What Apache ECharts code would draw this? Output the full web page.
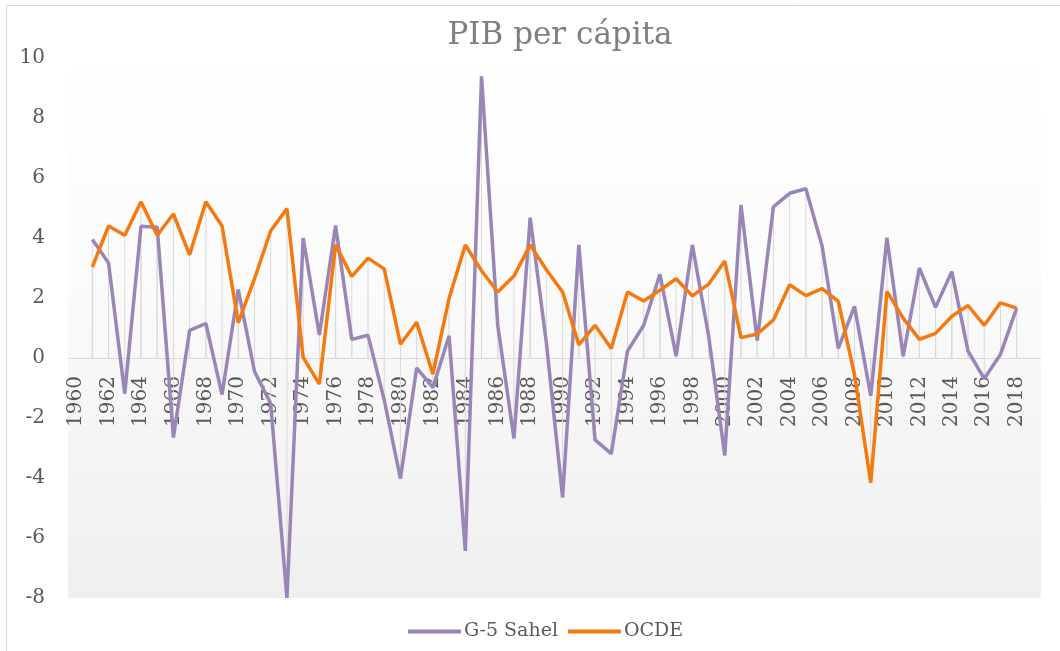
<!DOCTYPE html>
<html>
<head>
<meta charset="utf-8">
<style>
  html, body { margin: 0; padding: 0; background: #fff; }
  #grafico { width: 1060px; height: 651px; }
</style>
</head>
<body>
<div id="grafico"></div>

<script src="https://cdn.jsdelivr.net/npm/echarts@6/dist/echarts.min.js"></script>
<script>
    // Años (la última categoría queda vacía, como en el original)
    var anios = ['1960','1961','1962','1963','1964','1965','1966','1967','1968','1969',
                 '1970','1971','1972','1973','1974','1975','1976','1977','1978','1979',
                 '1980','1981','1982','1983','1984','1985','1986','1987','1988','1989',
                 '1990','1991','1992','1993','1994','1995','1996','1997','1998','1999',
                 '2000','2001','2002','2003','2004','2005','2006','2007','2008','2009',
                 '2010','2011','2012','2013','2014','2015','2016','2017','2018','2019'];

    // Crecimiento del PIB per cápita (%)
    var sahel = [null, 3.95, 3.17, -1.19, 4.39, 4.36, -2.65, 0.92, 1.15, -1.22,
                 2.28, -0.45, -1.52, -8.0, 4.0, 0.77, 4.42, 0.62, 0.76, -1.4,
                 -4.02, -0.33, -0.99, 0.74, -6.43, 9.39, 1.09, -2.68, 4.68, 0.5,
                 -4.65, 3.77, -2.73, -3.19, 0.23, 1.09, 2.79, 0.06, 3.77, 0.75,
                 -3.25, 5.10, 0.58, 5.04, 5.49, 5.64, 3.73, 0.32, 1.72, -1.26,
                 4.01, 0.06, 3.00, 1.69, 2.88, 0.23, -0.69, 0.12, 1.66, null];

    var ocde = [null, 3.03, 4.40, 4.09, 5.21, 4.09, 4.80, 3.44, 5.21, 4.40,
                1.18, 2.64, 4.24, 4.98, 0.02, -0.87, 3.77, 2.72, 3.33, 2.97,
                0.46, 1.19, -0.54, 1.99, 3.77, 2.91, 2.20, 2.73, 3.77, 2.94,
                2.20, 0.44, 1.09, 0.32, 2.20, 1.90, 2.26, 2.64, 2.07, 2.46,
                3.23, 0.68, 0.80, 1.27, 2.44, 2.08, 2.31, 1.89, -0.55, -4.16,
                2.22, 1.33, 0.62, 0.82, 1.39, 1.75, 1.09, 1.84, 1.66, null];

    var yMin = -8, yMax = 10;
    var fuente = 'DejaVu Serif';
    var gris = '#595959';

    var gridTop = 58, gridBottom = 53;
    var altoGrid = 651 - gridTop - gridBottom;
    // el eje de categorías se dibuja sobre el cero, con sus etiquetas
    var desplazamientoCero = -altoGrid * (0 - yMin) / (yMax - yMin);

    var myChart = echarts.init(document.getElementById('grafico'));

    var option = {
        backgroundColor: '#ffffff',
        textStyle: { fontFamily: fuente },
        title: {
            text: 'PIB per cápita',
            left: 555,
            textAlign: 'center',
            top: 15,
            textStyle: { fontFamily: fuente, fontSize: 31, fontWeight: 'normal', color: '#7f7f7f' }
        },
        graphic: [{
            type: 'rect',
            shape: { x: 6.5, y: 5.5, width: 1100, height: 700 },
            style: { fill: 'none', stroke: '#d9d9d9', lineWidth: 1 },
            silent: true
        }],
        legend: {
            data: ['G-5 Sahel', 'OCDE'],
            bottom: 5,
            left: 403,
            itemWidth: 53,
            itemHeight: 4,
            itemGap: 10,
            icon: 'rect',
            textStyle: { fontFamily: fuente, fontSize: 19, color: gris, padding: [0, 0, 0, -2] }
        },
        grid: {
            left: 68,
            right: 19,
            top: gridTop,
            bottom: gridBottom,
            outerBoundsMode: 'none',
            show: true,
            borderWidth: 0,
            backgroundColor: new echarts.graphic.LinearGradient(0, 0, 0, 1, [
                { offset: 0, color: '#ffffff' },
                { offset: 0.4, color: '#fbfbfb' },
                { offset: 1, color: '#efefef' }
            ])
        },
        xAxis: {
            type: 'category',
            data: anios,
            boundaryGap: true,
            offset: desplazamientoCero,
            axisLine: { onZero: false, lineStyle: { color: '#d9d9d9', width: 1 } },
            axisTick: { show: false },
            axisLabel: {
                interval: 1,
                rotate: 90,
                margin: 18,
                fontFamily: fuente,
                fontSize: 20,
                color: gris
            },
            splitLine: { show: false }
        },
        yAxis: {
            type: 'value',
            min: yMin,
            max: yMax,
            interval: 2,
            axisLine: { show: false },
            axisTick: { show: false },
            splitLine: { show: false },
            axisLabel: { margin: 23, fontFamily: fuente, fontSize: 20, color: gris }
        },
        series: [
            // líneas de proyección (verticales grises)
            {
                name: 'drop1',
                type: 'bar',
                data: sahel,
                barWidth: 1,
                barGap: '-100%',
                itemStyle: { color: '#d9d9d9' },
                silent: true,
                z: 1
            },
            {
                name: 'drop2',
                type: 'bar',
                data: ocde,
                barWidth: 1,
                barGap: '-100%',
                itemStyle: { color: '#d9d9d9' },
                silent: true,
                z: 1
            },
            {
                name: 'G-5 Sahel',
                type: 'line',
                data: sahel,
                symbol: 'none',
                lineStyle: { color: '#9a85b9', width: 3.5 },
                itemStyle: { color: '#9a85b9' },
                zlevel: 1,
                z: 3
            },
            {
                name: 'OCDE',
                type: 'line',
                data: ocde,
                symbol: 'none',
                lineStyle: { color: '#f47a10', width: 3.5 },
                itemStyle: { color: '#f47a10' },
                zlevel: 1,
                z: 4
            }
        ]
    };

    myChart.setOption(option);
</script>
</body>
</html>
